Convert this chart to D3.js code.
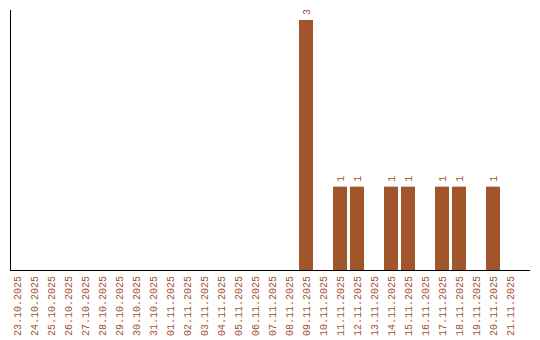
<!DOCTYPE html>
<head>
  <meta charset="utf-8">
  <script src="https://cdn.jsdelivr.net/npm/d3@7"></script>
  <style>
    body { margin:0; background:#fff; }
    text { font-family: "Liberation Mono", monospace; font-size: 10px; fill: #a0522d; }
  </style>
</head>

<body>
  <script>
    let width = 540,
        height = 340;

    // dates shown on the x axis
    let dates = ["23.10.2025", "24.10.2025", "25.10.2025", "26.10.2025", "27.10.2025",
      "28.10.2025", "29.10.2025", "30.10.2025", "31.10.2025", "01.11.2025",
      "02.11.2025", "03.11.2025", "04.11.2025", "05.11.2025", "06.11.2025",
      "07.11.2025", "08.11.2025", "09.11.2025", "10.11.2025", "11.11.2025",
      "12.11.2025", "13.11.2025", "14.11.2025", "15.11.2025", "16.11.2025",
      "17.11.2025", "18.11.2025", "19.11.2025", "20.11.2025", "21.11.2025"];

    let counts = [0, 0, 0, 0, 0, 0, 0, 0, 0, 0,
      0, 0, 0, 0, 0, 0, 0, 3, 0, 1,
      1, 0, 1, 1, 0, 1, 1, 0, 1, 0];

    let data = dates.map((d, i) => ({ date: d, value: counts[i] }));

    let svg = d3.select("body")
      .append("svg")
      .attr("width", width)
      .attr("height", height);

    let x = d3.scaleBand()
      .domain(dates)
      .range([10, 10 + 17 * 30 - 3])
      .paddingInner(3 / 17)
      .paddingOuter(0);

    let y = d3.scaleLinear()
      .domain([0, 3])
      .range([270, 20]);

    // bars
    svg.selectAll(".bar")
      .data(data.filter(d => d.value > 0))
      .enter().append("rect")
      .attr("class", "bar")
      .attr("x", d => x(d.date))
      .attr("y", d => y(d.value))
      .attr("width", x.bandwidth())
      .attr("height", d => y(0) - y(d.value))
      .style("fill", "#a0562a");

    // value labels above bars
    svg.selectAll(".val")
      .data(data.filter(d => d.value > 0))
      .enter().append("text")
      .attr("class", "val")
      .attr("transform", d => "translate(" + (x(d.date) + x.bandwidth() / 2) + "," + (y(d.value) - 5) + ") rotate(-90)")
      .attr("dy", "0.35em")
      .style("text-anchor", "start")
      .text(d => d.value);

    // x labels
    svg.selectAll(".lbl")
      .data(dates)
      .enter().append("text")
      .attr("class", "lbl")
      .attr("transform", d => "translate(" + (x(d) + x.bandwidth() / 2) + ",276) rotate(-90)")
      .attr("dy", "0.35em")
      .style("text-anchor", "end")
      .text(d => d);

    // axis lines
    svg.append("line")
      .attr("x1", 10.5).attr("x2", 10.5)
      .attr("y1", 10).attr("y2", 271)
      .style("stroke", "#000");

    svg.append("line")
      .attr("x1", 10).attr("x2", 530)
      .attr("y1", 270.5).attr("y2", 270.5)
      .style("stroke", "#000");
  </script>
</body>
